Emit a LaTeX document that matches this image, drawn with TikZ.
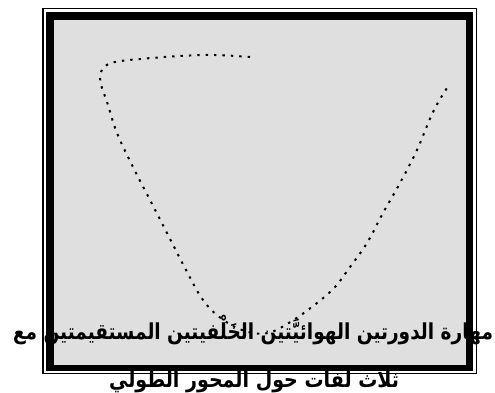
\documentclass[tikz,border=0pt]{standalone}
\usepackage{fontspec}
\newfontfamily\arabicfont[Script=Arabic]{DejaVu Sans}
\TeXXeTstate=1
\definecolor{panel}{RGB}{223,223,223}
\tikzset{
  caption/.style={font=\arabicfont\bfseries\fontsize{22}{26}\selectfont, inner sep=0pt, anchor=base},
  trace/.style={line width=2pt, dash pattern=on 2.4pt off 6pt}
}
\begin{document}
\begin{tikzpicture}[x=1pt,y=-1pt]
\useasboundingbox (0,0) rectangle (495,393);
\draw[line width=1.5pt] (42.75,8.75) rectangle (476.25,373.25);
\fill (46,12) rectangle (473,371);
\fill[panel] (54,20) rectangle (466,365);
\draw[trace] plot[smooth, tension=0.6] coordinates {(250,57) (215,55) (180,56) (140,59) (115,62) (104,67) (100,77) (102,88) (107,102) (117,133) (133,167) (150,200) (167,233) (185,268) (203,300) (222,319) (245,331) (268,333) (292,321) (317,303) (335,287) (350,267) (367,243) (383,213) (400,183) (417,150) (433,112) (447,88)};
\node[caption] (line1) at (253,339) {\resizebox{480pt}{\height}{\beginR مهارة الدورتين الهوائيَّتين الخَلْفيتين المستقيمتين مع\endR}};
\node[caption] (line2) at (254,387) {\resizebox{290pt}{\height}{\beginR ثلاث لفات حول المحور الطولي\endR}};
\end{tikzpicture}
\end{document}
